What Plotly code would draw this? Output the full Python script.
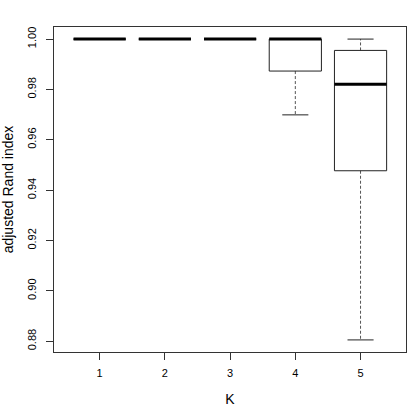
import plotly.graph_objects as go

K = [1, 2, 3, 4, 5]
lower_whisker = [1.0, 1.0, 1.0, 0.9699, 0.8805]
q1 = [1.0, 1.0, 1.0, 0.9873, 0.9477]
median = [1.0, 1.0, 1.0, 1.0, 0.9821]
q3 = [1.0, 1.0, 1.0, 1.0, 0.9955]
upper_whisker = [1.0, 1.0, 1.0, 1.0, 1.0]
y_ticks = [0.88, 0.90, 0.92, 0.94, 0.96, 0.98, 1.00]
y_tick_labels = ["0.88", "0.90", "0.92", "0.94", "0.96", "0.98", "1.00"]

HALF = 0.4
CAP = 0.2
LINE = "#222222"
WHISK = "#555555"

fig = go.Figure()
for k, lw, a, m, b, uw in zip(K, lower_whisker, q1, median, q3, upper_whisker):
    if uw > b:
        fig.add_trace(go.Scatter(x=[k, k], y=[b, uw], mode="lines",
                                 line=dict(color=WHISK, width=1, dash="3px,2px"),
                                 hoverinfo="skip", showlegend=False))
        fig.add_trace(go.Scatter(x=[k - CAP, k + CAP], y=[uw, uw], mode="lines",
                                 line=dict(color=LINE, width=1),
                                 hoverinfo="skip", showlegend=False))
    if lw < a:
        fig.add_trace(go.Scatter(x=[k, k], y=[a, lw], mode="lines",
                                 line=dict(color=WHISK, width=1, dash="3px,2px"),
                                 hoverinfo="skip", showlegend=False))
        fig.add_trace(go.Scatter(x=[k - CAP, k + CAP], y=[lw, lw], mode="lines",
                                 line=dict(color=LINE, width=1),
                                 hoverinfo="skip", showlegend=False))
    fig.add_trace(go.Scatter(x=[k - HALF, k + HALF, k + HALF, k - HALF, k - HALF],
                             y=[a, a, b, b, a], mode="lines",
                             line=dict(color=LINE, width=1),
                             hoverinfo="skip", showlegend=False))
    fig.add_trace(go.Scatter(x=[k - HALF, k + HALF], y=[m, m], mode="lines",
                             line=dict(color="black", width=3),
                             hoverinfo="skip", showlegend=False))

font = "Liberation Sans, Arial, Helvetica, sans-serif"
fig.update_layout(
    width=407, height=407,
    margin=dict(l=54, r=1, t=27, b=55, autoexpand=False),
    paper_bgcolor="white", plot_bgcolor="white",
    font=dict(family=font, size=11, color="black"),
    showlegend=False,
    xaxis=dict(
        range=[0.3, 5.697], tickvals=K, ticktext=[str(k) for k in K],
        ticks="outside", ticklen=7, tickcolor="#333", tickwidth=1,
        showgrid=False, zeroline=False, automargin=False,
        showline=True, linecolor="#333", linewidth=1, mirror=True,
        ticklabelstandoff=4,
        title=dict(text="K", font=dict(size=14), standoff=16),
        tickfont=dict(size=11),
    ),
    yaxis=dict(
        range=[0.8757, 1.0048], tickvals=y_ticks, ticktext=y_tick_labels,
        ticks="outside", ticklen=7, tickcolor="#333", tickwidth=1,
        tickangle=-90, automargin=False,
        showgrid=False, zeroline=False,
        showline=True, linecolor="#333", linewidth=1, mirror=True,
        ticklabelstandoff=6,
        title=dict(text="adjusted Rand index", font=dict(size=14), standoff=12),
        tickfont=dict(size=11),
    ),
)

fig.write_html("out.html", config={"displayModeBar": False},
               post_script="document.body.style.margin='0';")
